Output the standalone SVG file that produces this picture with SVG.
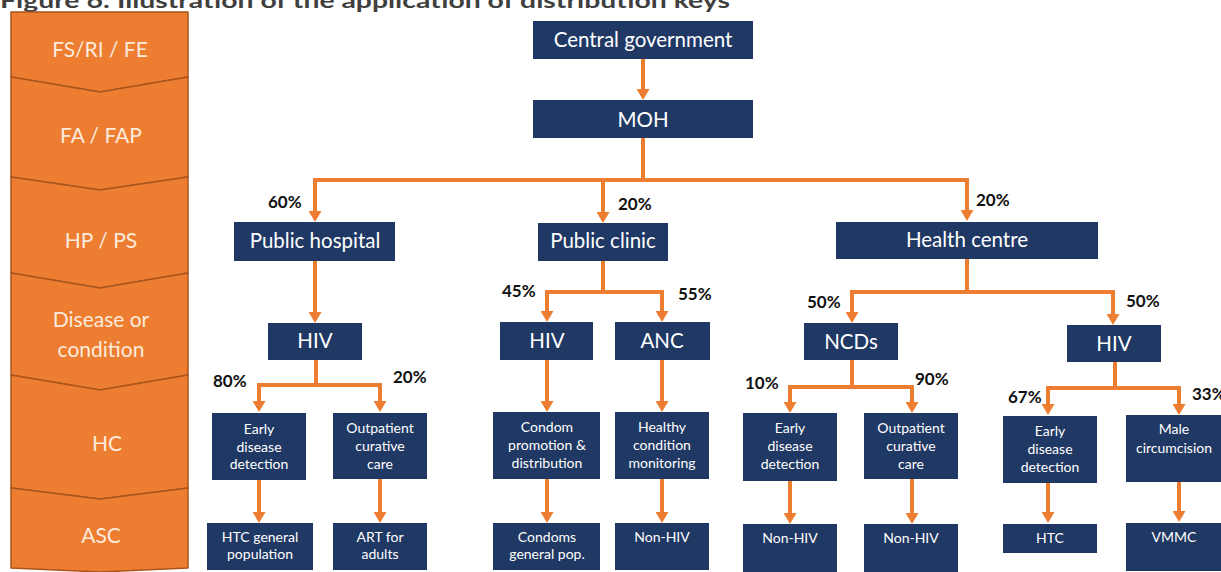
<svg xmlns="http://www.w3.org/2000/svg" width="1221" height="572" viewBox="0 0 1221 572">
  <defs>
    <marker id="arrow" markerUnits="userSpaceOnUse" markerWidth="13" markerHeight="13" viewBox="0 0 11 13" refX="3" refY="6.5" orient="auto">
      <path d="M0,0 L11,6.5 L0,13 z" fill="#ED7D31"/>
    </marker>
    <style>
      .title { font-family: Lato, "Liberation Sans", sans-serif; font-weight: bold; font-size: 20px; fill: #3F3F3F; }
      .band { fill: #ED7D31; stroke: #A9541C; stroke-width: 1.5; stroke-linejoin: round; }
      .band-label { font-family: Lato, "Liberation Sans", sans-serif; font-size: 21px; fill: #FCEBDD; text-anchor: middle; }
      .box { fill: #203864; }
      .big { font-family: Lato, "Liberation Sans", sans-serif; font-size: 20.5px; fill: #FFFFFF; text-anchor: middle; }
      .small { font-family: Lato, "Liberation Sans", sans-serif; font-size: 14px; fill: #FFFFFF; text-anchor: middle; }
      .pct { font-family: Lato, "Liberation Sans", sans-serif; font-weight: bold; font-size: 17px; fill: #111111; }
      .link { fill: none; stroke: #ED7D31; stroke-width: 4; }
      .arr { fill: none; stroke: #ED7D31; stroke-width: 4; marker-end: url(#arrow); }
    </style>
  </defs>

  <rect width="1221" height="572" fill="#FFFFFF"/>

  <text class="title" x="0" y="8" textLength="730" lengthAdjust="spacingAndGlyphs">Figure 6: Illustration of the application of distribution keys</text>

  <!-- classification bands on the left -->
  <g id="bands">
    <g id="band-fs">
      <polygon class="band" points="11,12 188,12 188,77 100,92 11,77"/>
      <text class="band-label" x="100" y="57">FS/RI / FE</text>
    </g>
    <g id="band-fa">
      <polygon class="band" points="11,77 100,92 188,77 188,177 100,190 11,177"/>
      <text class="band-label" x="101" y="143">FA / FAP</text>
    </g>
    <g id="band-hp">
      <polygon class="band" points="11,177 100,190 188,177 188,273 100,288 11,273"/>
      <text class="band-label" x="101" y="248">HP / PS</text>
    </g>
    <g id="band-disease">
      <polygon class="band" points="11,273 100,288 188,273 188,375 100,390 11,375"/>
      <text class="band-label" x="101" y="327">Disease or</text>
      <text class="band-label" x="101" y="357">condition</text>
    </g>
    <g id="band-hc">
      <polygon class="band" points="11,375 100,390 188,375 188,488 100,499 11,488"/>
      <text class="band-label" x="107" y="451">HC</text>
    </g>
    <g id="band-asc">
      <polygon class="band" points="11,488 100,499 188,488 188,568 100,572 11,568"/>
      <text class="band-label" x="101" y="543">ASC</text>
    </g>
  </g>

  <!-- connectors -->
  <g id="connectors">
    <path class="arr" d="M643,59 V92"/>
    <path class="link" d="M643,138 V180"/>
    <path class="link" d="M313,180 H969"/>
    <path class="arr" d="M315,180 V214"/>
    <path class="arr" d="M603,180 V215"/>
    <path class="arr" d="M967,180 V213"/>

    <path class="arr" d="M315,261 V315"/>
    <path class="link" d="M316,360 V385"/>
    <path class="link" d="M257,385 H382"/>
    <path class="arr" d="M259,385 V404"/>
    <path class="arr" d="M380,385 V404"/>

    <path class="link" d="M603,261 V292"/>
    <path class="link" d="M545,292 H664"/>
    <path class="arr" d="M547,292 V314"/>
    <path class="arr" d="M662,292 V314"/>
    <path class="arr" d="M547,360 V404"/>
    <path class="arr" d="M662,360 V404"/>

    <path class="link" d="M967,259 V292"/>
    <path class="link" d="M850,292 H1115"/>
    <path class="arr" d="M852,292 V315"/>
    <path class="arr" d="M1113,292 V317"/>

    <path class="link" d="M852,360 V387"/>
    <path class="link" d="M788,387 H914"/>
    <path class="arr" d="M790,387 V405"/>
    <path class="arr" d="M912,387 V405"/>

    <path class="link" d="M1115,362 V388"/>
    <path class="link" d="M1046,388 H1181"/>
    <path class="arr" d="M1048,388 V407"/>
    <path class="arr" d="M1179,388 V407"/>

    <path class="arr" d="M259,480 V515"/>
    <path class="arr" d="M380,479 V515"/>
    <path class="arr" d="M547,479 V515"/>
    <path class="arr" d="M662,479 V515"/>
    <path class="arr" d="M790,481 V516"/>
    <path class="arr" d="M912,479 V516"/>
    <path class="arr" d="M1048,483 V515"/>
    <path class="arr" d="M1179,482 V514"/>
  </g>

  <!-- share labels -->
  <g id="shares">
    <text class="pct" x="268" y="208">60%</text>
    <text class="pct" x="618" y="210">20%</text>
    <text class="pct" x="976" y="206">20%</text>
    <text class="pct" x="502" y="297">45%</text>
    <text class="pct" x="678" y="300">55%</text>
    <text class="pct" x="807" y="308">50%</text>
    <text class="pct" x="1126" y="307">50%</text>
    <text class="pct" x="213" y="387">80%</text>
    <text class="pct" x="393" y="383">20%</text>
    <text class="pct" x="745" y="389">10%</text>
    <text class="pct" x="915" y="385">90%</text>
    <text class="pct" x="1008" y="403">67%</text>
    <text class="pct" x="1192" y="400">33%</text>
  </g>

  <!-- funding sources and agents -->
  <g id="central-government">
    <rect class="box" x="533" y="21" width="220" height="38"/>
    <text class="big" x="643" y="47">Central government</text>
  </g>
  <g id="moh">
    <rect class="box" x="533" y="100" width="220" height="38"/>
    <text class="big" x="643" y="127">MOH</text>
  </g>

  <!-- providers -->
  <g id="public-hospital">
    <rect class="box" x="234" y="222" width="161" height="39"/>
    <text class="big" x="315" y="248">Public hospital</text>
  </g>
  <g id="public-clinic">
    <rect class="box" x="538" y="223" width="130" height="38"/>
    <text class="big" x="603" y="248">Public clinic</text>
  </g>
  <g id="health-centre">
    <rect class="box" x="836" y="222" width="262" height="37"/>
    <text class="big" x="967" y="247">Health centre</text>
  </g>

  <!-- diseases / conditions -->
  <g id="hospital-hiv">
    <rect class="box" x="268" y="323" width="94" height="37"/>
    <text class="big" x="315" y="348">HIV</text>
  </g>
  <g id="clinic-hiv">
    <rect class="box" x="500" y="322" width="93" height="38"/>
    <text class="big" x="547" y="348">HIV</text>
  </g>
  <g id="clinic-anc">
    <rect class="box" x="615" y="322" width="95" height="38"/>
    <text class="big" x="662" y="348">ANC</text>
  </g>
  <g id="centre-ncds">
    <rect class="box" x="804" y="323" width="94" height="37"/>
    <text class="big" x="851" y="349">NCDs</text>
  </g>
  <g id="centre-hiv">
    <rect class="box" x="1067" y="325" width="94" height="37"/>
    <text class="big" x="1114" y="351">HIV</text>
  </g>

  <!-- health care functions -->
  <g id="hc-early-1">
    <rect class="box" x="212" y="413" width="94" height="67"/>
    <text class="small" x="259" y="434">Early</text>
    <text class="small" x="259" y="452">disease</text>
    <text class="small" x="259" y="469">detection</text>
  </g>
  <g id="hc-outpatient-1">
    <rect class="box" x="333" y="413" width="94" height="66"/>
    <text class="small" x="380" y="433">Outpatient</text>
    <text class="small" x="380" y="451">curative</text>
    <text class="small" x="380" y="469">care</text>
  </g>
  <g id="hc-condom">
    <rect class="box" x="493" y="412" width="107" height="67"/>
    <text class="small" x="547" y="432">Condom</text>
    <text class="small" x="547" y="450">promotion &amp;</text>
    <text class="small" x="547" y="468">distribution</text>
  </g>
  <g id="hc-healthy">
    <rect class="box" x="615" y="412" width="94" height="67"/>
    <text class="small" x="662" y="432">Healthy</text>
    <text class="small" x="662" y="450">condition</text>
    <text class="small" x="662" y="468">monitoring</text>
  </g>
  <g id="hc-early-2">
    <rect class="box" x="743" y="413" width="94" height="68"/>
    <text class="small" x="790" y="433">Early</text>
    <text class="small" x="790" y="451">disease</text>
    <text class="small" x="790" y="469">detection</text>
  </g>
  <g id="hc-outpatient-2">
    <rect class="box" x="864" y="413" width="94" height="66"/>
    <text class="small" x="911" y="433">Outpatient</text>
    <text class="small" x="911" y="451">curative</text>
    <text class="small" x="911" y="469">care</text>
  </g>
  <g id="hc-early-3">
    <rect class="box" x="1003" y="416" width="94" height="67"/>
    <text class="small" x="1050" y="436">Early</text>
    <text class="small" x="1050" y="454">disease</text>
    <text class="small" x="1050" y="472">detection</text>
  </g>
  <g id="hc-male-circumcision">
    <rect class="box" x="1126" y="415" width="95" height="67"/>
    <text class="small" x="1174" y="434">Male</text>
    <text class="small" x="1174" y="453">circumcision</text>
  </g>

  <!-- activities -->
  <g id="asc-htc-general">
    <rect class="box" x="207" y="523" width="106" height="47"/>
    <text class="small" x="260" y="542">HTC general</text>
    <text class="small" x="260" y="559">population</text>
  </g>
  <g id="asc-art">
    <rect class="box" x="333" y="523" width="94" height="47"/>
    <text class="small" x="380" y="542">ART for</text>
    <text class="small" x="380" y="559">adults</text>
  </g>
  <g id="asc-condoms">
    <rect class="box" x="493" y="523" width="107" height="47"/>
    <text class="small" x="547" y="542">Condoms</text>
    <text class="small" x="547" y="559">general pop.</text>
  </g>
  <g id="asc-non-hiv-1">
    <rect class="box" x="615" y="523" width="94" height="47"/>
    <text class="small" x="662" y="542">Non-HIV</text>
  </g>
  <g id="asc-non-hiv-2">
    <rect class="box" x="743" y="524" width="94" height="48"/>
    <text class="small" x="790" y="543">Non-HIV</text>
  </g>
  <g id="asc-non-hiv-3">
    <rect class="box" x="864" y="524" width="94" height="48"/>
    <text class="small" x="911" y="543">Non-HIV</text>
  </g>
  <g id="asc-htc">
    <rect class="box" x="1003" y="524" width="94" height="29"/>
    <text class="small" x="1050" y="543">HTC</text>
  </g>
  <g id="asc-vmmc">
    <rect class="box" x="1126" y="523" width="95" height="48"/>
    <text class="small" x="1174" y="542">VMMC</text>
  </g>
</svg>
